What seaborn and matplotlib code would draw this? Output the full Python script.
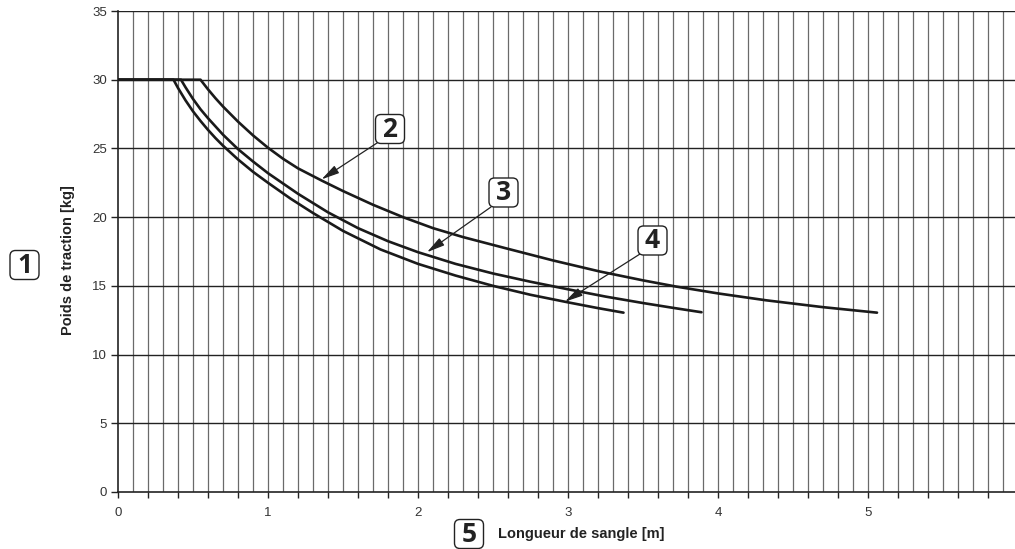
import numpy as np
import pandas as pd
import matplotlib
matplotlib.use("Agg")
import matplotlib.pyplot as plt
import seaborn as sns
from matplotlib.ticker import MultipleLocator
from matplotlib.patches import FancyBboxPatch

# ---- data ----
x_curve2 = [0, 0.55, 0.6, 0.65, 0.7, 0.8, 0.9, 1.0, 1.1, 1.2, 1.36, 1.5, 1.7, 1.9, 2.1, 2.3,
            2.58, 2.9, 3.21, 3.5, 3.72, 4.0, 4.32, 4.7, 5.06]
y_curve2 = [30, 30, 29.3, 28.65, 28.05, 26.95, 25.95, 25.05, 24.25, 23.55, 22.65, 21.9, 20.9, 20.0, 19.2, 18.55,
            17.75, 16.85, 16.05, 15.4, 14.95, 14.45, 13.95, 13.45, 13.05]

x_curve3 = [0, 0.42, 0.45, 0.5, 0.55, 0.6, 0.7, 0.8, 0.9, 1.0, 1.2, 1.4, 1.6, 1.8, 2.0, 2.25,
            2.5, 2.75, 3.0, 3.25, 3.5, 3.7, 3.89]
y_curve3 = [30, 30, 29.45, 28.6, 27.85, 27.2, 26.0, 24.95, 24.05, 23.2, 21.7, 20.35, 19.2, 18.25, 17.45, 16.6,
            15.9, 15.3, 14.75, 14.22, 13.75, 13.4, 13.08]

x_curve4 = [0, 0.37, 0.4, 0.45, 0.5, 0.55, 0.6, 0.65, 0.7, 0.8, 0.9, 1.0, 1.15, 1.3, 1.5, 1.75,
            2.0, 2.25, 2.5, 2.75, 3.0, 3.2, 3.37]
y_curve4 = [30, 30, 29.4, 28.5, 27.7, 27.0, 26.35, 25.75, 25.2, 24.2, 23.3, 22.5, 21.35, 20.3, 19.0, 17.65,
            16.6, 15.75, 15.0, 14.35, 13.8, 13.38, 13.05]

x_ticks = [0, 1, 2, 3, 4, 5]
y_ticks = [0, 5, 10, 15, 20, 25, 30, 35]
x_label = "Longueur de sangle [m]"
y_label = "Poids de traction [kg]"
callouts = ["1", "2", "3", "4", "5"]

df = pd.concat([
    pd.DataFrame({"x": x_curve2, "y": y_curve2, "curve": "2"}),
    pd.DataFrame({"x": x_curve3, "y": y_curve3, "curve": "3"}),
    pd.DataFrame({"x": x_curve4, "y": y_curve4, "curve": "4"}),
])

sns.set_theme(style="white")
plt.rcParams["font.family"] = ["Liberation Sans", "DejaVu Sans"]

W, H = 1015, 549
fig = plt.figure(figsize=(W / 100, H / 100), dpi=100)
ax = fig.add_axes([118 / W, 1 - 492 / H, 1 - 118 / W, (492 - 11) / H])

sns.lineplot(data=df, x="x", y="y", units="curve", estimator=None, sort=False,
             color="#1a1a1a", linewidth=1.9, ax=ax, legend=False, zorder=5)
for ln in ax.lines:
    ln.set_solid_joinstyle("round")

ax.set_xlim(0, (W - 118) / 150)
ax.set_ylim(0, 35)

# grid
ax.xaxis.set_minor_locator(MultipleLocator(0.2))
for xv in np.arange(0.1, 5.95, 0.1):
    ax.axvline(xv, color="#6a6a6a", lw=0.9, zorder=1)
for yv in y_ticks[1:]:
    ax.axhline(yv, color="#222222", lw=1.0, zorder=2)

ax.set_xticks(x_ticks)
ax.set_yticks(y_ticks)
ax.tick_params(axis="x", which="both", direction="out", length=4, width=1,
               color="#222222", pad=7, labelsize=9.5, labelcolor="#333333",
               bottom=True)
ax.tick_params(axis="y", which="major", direction="out", length=5, width=1,
               color="#222222", pad=3, labelsize=9.5, labelcolor="#333333",
               left=True)

for s in ["top", "right"]:
    ax.spines[s].set_visible(False)
for s in ["left", "bottom"]:
    ax.spines[s].set_color("#222222")
    ax.spines[s].set_linewidth(1.2)

ax.set_xlabel("")
ax.set_ylabel(y_label, fontsize=10.5, fontweight="bold", color="#222222")
ax.yaxis.set_label_coords((75 - 118) / (W - 118), (492 - 260) / 481)

fig.text(498 / W, 15 / H, x_label, fontsize=10.5, fontweight="bold",
         color="#222222", ha="left", va="center")

# callout boxes (centre in pixels from bottom-left)
box_centres = [(24.5, 284), (390, 420), (503.5, 356.5), (652.5, 308.5), (469, 15)]
for lab, (cx, cy) in zip(callouts, box_centres):
    bw = 29
    patch = FancyBboxPatch(((cx - bw / 2) / 100, (cy - bw / 2) / 100), bw / 100, bw / 100,
                           boxstyle="round,pad=0,rounding_size=0.055",
                           transform=fig.dpi_scale_trans, facecolor="white",
                           edgecolor="#222222", linewidth=1.0, zorder=10)
    fig.patches.append(patch)
    fig.text(cx / W, (cy - 0.5) / H, lab, fontsize=19, fontweight="bold",
             family=["Open Sans", "DejaVu Sans"], color="#222222",
             ha="center", va="center", zorder=11)

# arrows from callouts to curves
arrow_starts = [(377, 406), (491, 342), (640, 295)]
arrow_tips = [(1.357, 22.75), (2.06, 17.45), (2.98, 13.85)]
for (sx, sy), (tx, ty) in zip(arrow_starts, arrow_tips):
    ax.annotate("", xy=(tx, ty), xycoords="data",
                xytext=(sx / W, sy / H), textcoords="figure fraction",
                arrowprops=dict(arrowstyle="-|>,head_length=0.9,head_width=0.22",
                                color="#222222", lw=0.9, shrinkA=0, shrinkB=0),
                zorder=12, annotation_clip=False)

fig.savefig("out.png", dpi=100)
